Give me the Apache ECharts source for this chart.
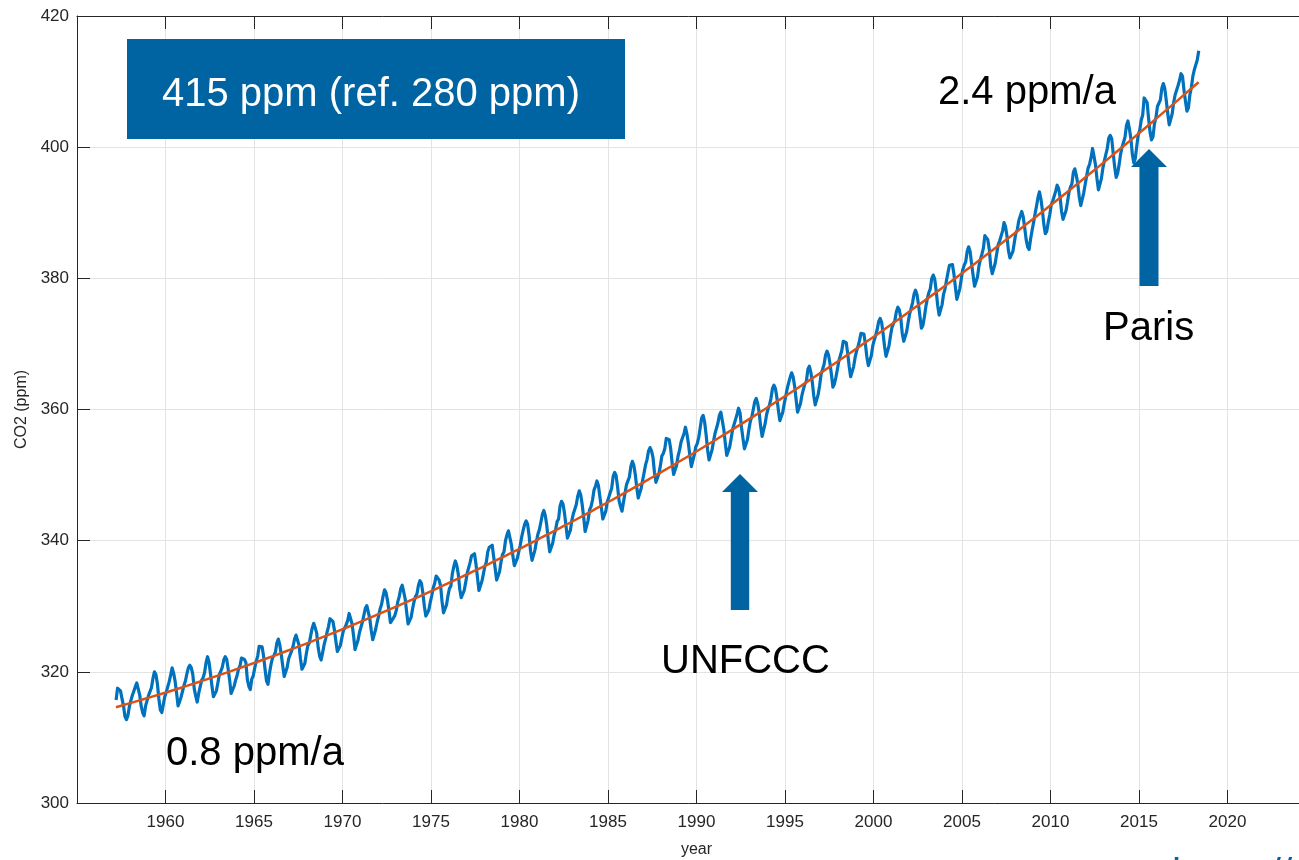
<!DOCTYPE html>
<html>
<head>
<meta charset="utf-8">
<script src="https://cdn.jsdelivr.net/npm/echarts@6/dist/echarts.min.js"></script>
<style>
html,body{margin:0;padding:0;background:#fff;overflow:hidden;}
#chart{width:1299px;height:860px;}
</style>
</head>
<body>
<div id="chart"></div>
<script>
// ---- data ----
// monthly CO2 (ppm); row i = plotted year firstYear + i; first row starts in firstMonth
const firstYear = 1957;
const firstMonth = 3;
const co2Rows = [
  [315.7,317.5,317.5,317.1,315.9,314.9,313.2,312.7,313.3,314.7],
  [315.6,316.4,316.7,317.7,318.3,318.2,316.5,314.8,313.8,313.3,314.8,315.6],
  [316.4,317.0,317.6,319.0,320.0,319.6,318.2,315.9,314.2,313.8,315.0,316.2],
  [316.9,317.7,318.5,319.5,320.6,319.8,318.6,316.8,314.8,315.4,316.1,317.0],
  [317.9,318.6,319.7,320.6,321.0,320.6,319.6,317.4,316.3,315.4,316.7,317.7],
  [318.7,319.1,319.9,321.4,322.3,321.5,319.7,317.8,316.2,316.0,317.1,318.3],
  [319.6,320.1,320.7,321.8,322.3,321.9,320.4,318.7,316.7,316.8,317.8,318.7],
  [319.4,320.4,320.9,322.1,322.2,321.9,321.4,318.8,317.8,317.3,318.9,319.4],
  [320.6,321.6,322.4,323.9,324.0,323.8,322.4,320.4,318.6,318.1,319.8,321.1],
  [322.1,322.5,323.0,324.4,325.0,324.1,322.6,320.9,319.3,319.3,320.7,322.0],
  [322.6,323.2,323.9,325.0,325.6,325.4,324.1,322.0,320.4,320.3,321.3,322.8],
  [324.0,324.4,325.6,326.7,327.4,326.7,325.9,323.7,322.4,321.8,322.9,324.1],
  [325.0,326.0,326.9,328.1,328.1,327.7,326.4,324.7,323.1,323.2,324.0,325.1],
  [326.2,326.7,327.2,327.8,328.9,328.6,327.3,325.5,323.4,323.6,324.8,326.0],
  [326.8,327.6,327.8,329.7,330.1,329.1,328.1,326.3,324.9,325.1,326.5,327.6],
  [328.5,329.6,330.3,331.5,332.5,332.1,330.9,329.3,327.5,327.2,328.2,328.6],
  [329.4,330.7,331.5,332.7,333.2,332.2,331.1,329.1,327.3,327.3,328.3,329.6],
  [330.7,331.5,331.9,333.2,333.9,333.5,332.0,330.0,328.5,328.3,329.4,330.6],
  [331.6,332.8,333.5,334.6,334.8,334.0,333.1,330.7,329.0,328.8,330.2,331.6],
  [332.7,333.1,335.0,336.1,336.9,336.2,334.9,332.6,331.3,331.3,332.4,333.6],
  [335.0,335.3,336.7,337.7,338.0,338.0,336.4,334.4,332.4,332.4,333.8,334.9],
  [336.1,336.7,338.3,339.0,339.2,339.3,337.5,335.8,334.0,334.2,335.3,336.8],
  [337.9,338.3,340.0,340.9,341.5,341.3,339.4,337.7,336.2,336.2,337.3,338.3],
  [339.3,340.6,341.6,342.5,343.0,342.5,340.8,338.4,337.0,337.1,338.6,339.9],
  [341.0,341.7,342.8,344.0,344.6,343.8,342.3,340.1,338.3,338.3,339.6,340.9],
  [341.7,342.9,343.3,345.3,346.0,345.6,344.2,342.3,340.4,340.4,341.6,343.1],
  [344.1,344.8,345.5,346.8,347.6,347.0,345.5,343.6,341.4,341.7,343.1,344.7],
  [345.2,346.2,347.7,348.3,349.1,348.4,346.7,345.0,343.3,343.1,344.5,345.9],
  [346.6,347.3,348.0,349.8,350.4,349.9,348.2,346.1,345.2,344.5,345.9,347.2],
  [348.5,348.7,349.7,351.3,352.1,351.5,350.1,348.1,346.5,346.6,348.0,349.2],
  [350.4,351.6,352.4,353.7,354.2,353.7,352.7,350.4,348.9,349.1,350.2,351.4],
  [352.9,353.3,354.0,355.6,355.9,355.4,354.0,351.8,350.1,350.3,351.5,352.9],
  [353.8,355.0,355.7,356.3,357.3,356.3,354.8,353.0,351.3,351.6,353.1,354.3],
  [354.8,355.7,357.2,358.7,359.1,358.1,356.2,353.9,352.3,352.4,353.8,355.1],
  [356.3,357.1,357.9,359.1,359.6,359.3,357.0,354.9,353.0,353.3,354.3,355.6],
  [357.0,357.3,358.5,359.3,360.2,359.5,357.3,355.6,354.0,354.1,355.4,356.9],
  [358.2,358.9,360.0,361.2,361.7,360.9,359.5,357.4,355.9,356.9,357.8,359.2],
  [360.1,360.7,361.7,363.2,363.7,363.2,361.8,359.9,358.3,358.3,359.6,360.9],
  [362.0,363.2,364.1,364.9,365.6,365.0,363.6,361.6,359.6,359.5,360.9,362.2],
  [363.1,363.9,364.3,366.1,366.6,365.7,364.2,362.1,360.7,360.8,362.3,363.7],
  [365.4,365.7,366.9,368.3,368.9,368.3,367.0,365.3,363.4,363.9,364.9,366.1],
  [367.4,368.2,369.0,370.4,370.6,370.2,368.6,366.6,365.0,365.0,366.5,367.9],
  [368.9,369.6,370.5,371.6,371.7,371.5,370.0,368.0,366.7,366.8,368.2,369.7],
  [370.6,371.3,372.2,373.4,373.9,373.3,371.6,369.6,368.1,368.4,369.7,371.2],
  [372.5,373.1,373.6,374.9,375.6,375.2,373.9,371.6,370.4,370.4,371.9,373.3],
  [374.6,375.4,376.3,377.6,378.2,377.5,376.0,374.2,372.4,372.8,374.1,375.7],
  [376.9,377.8,378.4,380.0,380.5,379.9,378.1,375.9,374.4,374.6,376.0,377.6],
  [378.4,379.7,380.9,382.0,382.2,382.1,380.7,378.7,376.8,377.0,378.4,379.9],
  [381.3,382.0,382.5,384.1,384.8,384.1,382.2,380.5,378.8,379.1,380.2,381.9],
  [382.9,383.7,384.6,386.5,386.4,385.9,384.4,381.8,380.7,380.8,382.3,383.7],
  [385.1,385.7,386.0,387.2,388.5,387.9,386.4,384.2,383.1,383.0,384.1,385.5],
  [386.9,387.4,388.8,389.5,390.2,389.4,387.7,385.9,384.8,384.4,386.0,387.3],
  [388.5,389.8,391.0,392.3,393.2,392.1,390.4,388.2,386.8,387.2,388.6,389.7],
  [391.2,391.8,392.5,393.3,394.2,393.7,392.4,390.2,389.0,388.9,390.3,391.6],
  [393.1,393.9,394.4,396.2,396.7,395.7,394.4,392.4,391.1,391.1,393.0,394.3],
  [395.6,396.8,397.4,398.4,399.8,398.6,397.3,395.2,393.5,393.7,395.2,396.8],
  [397.9,398.0,399.8,401.4,401.8,401.3,399.1,397.0,395.4,396.0,397.3,398.9],
  [400.0,400.3,401.5,403.3,404.0,402.8,401.3,398.9,397.6,398.3,400.2,401.9],
  [402.6,404.1,404.9,407.5,407.7,406.8,404.4,402.3,401.1,401.6,403.6,404.5],
  [406.2,406.5,407.2,409.0,409.7,408.9,407.1,405.1,403.4,403.6,405.1,406.8],
  [408.0,408.3,409.4,410.2,411.2,410.8,408.7,407.0,405.5,406.0,408.0,409.1],
  [410.8,411.8,412.0,413.3,414.7]
];

// trend curve (orange)
const trendYears = [1957.2,1958.2,1959.2,1960.2,1961.2,1962.2,1963.2,1964.2,1965.2,1966.2,
  1967.2,1968.2,1969.2,1970.2,1971.2,1972.2,1973.2,1974.2,1975.2,1976.2,
  1977.2,1978.2,1979.2,1980.2,1981.2,1982.2,1983.2,1984.2,1985.2,1986.2,
  1987.2,1988.2,1989.2,1990.2,1991.2,1992.2,1993.2,1994.2,1995.2,1996.2,
  1997.2,1998.2,1999.2,2000.2,2001.2,2002.2,2003.2,2004.2,2005.2,2006.2,
  2007.2,2008.2,2009.2,2010.2,2011.2,2012.2,2013.2,2014.2,2015.2,2016.2,
  2017.2,2018.2,2018.37];
const trendValues = [314.60,315.38,316.18,317.01,317.86,318.74,319.65,320.58,321.54,322.52,
  323.53,324.57,325.63,326.72,327.84,328.98,330.14,331.33,332.55,333.80,
  335.07,336.36,337.69,339.03,340.41,341.81,343.23,344.69,346.16,347.67,
  349.20,350.75,352.34,353.94,355.58,357.24,358.92,360.64,362.37,364.14,
  365.93,367.74,369.59,371.45,373.35,375.27,377.21,379.19,381.18,383.21,
  385.26,387.33,389.44,391.56,393.72,395.90,398.10,400.33,402.59,404.88,
  407.18,409.52,409.90];

const xTicks = [1960,1965,1970,1975,1980,1985,1990,1995,2000,2005,2010,2015,2020];
const yTicks = [300,320,340,360,380,400,420];

const annotations = {
  box: '415 ppm (ref. 280 ppm)',
  rateEnd: '2.4 ppm/a',
  rateStart: '0.8 ppm/a',
  ev1: 'UNFCCC',
  ev2: 'Paris',
  url: 'https://climate.copernicus.eu'
};

// ---- build series ----
const co2Points = [];
co2Rows.forEach((row, i) => {
  const m0 = i === 0 ? firstMonth - 1 : 0;
  row.forEach((v, j) => {
    co2Points.push([firstYear + i + (m0 + j + 0.5) / 12, v]);
  });
});
const trendPoints = trendYears.map((x, i) => [x, trendValues[i]]);

const FONT = '"Liberation Sans", Arial, Helvetica, sans-serif';
const AX = '#262626';
const GRID = '#e3e3e3';
const BLUE_BOX = '#0064a2';

function bigText(txt, x, y, color) {
  return {
    type: 'text', x: x, y: y, z: 100,
    style: {
      text: txt, fill: color || '#000',
      font: '40px ' + FONT, fontSize: 40, fontFamily: FONT,
      textAlign: 'left', align: 'left',
      textVerticalAlign: 'middle', verticalAlign: 'middle'
    }
  };
}
function arrow(cx, tipY, headBaseY, bottomY, headHalf, shaftHalf) {
  return {
    type: 'polygon', z: 100,
    shape: { points: [
      [cx, tipY], [cx + headHalf, headBaseY], [cx + shaftHalf, headBaseY],
      [cx + shaftHalf, bottomY], [cx - shaftHalf, bottomY], [cx - shaftHalf, headBaseY],
      [cx - headHalf, headBaseY]
    ]},
    style: { fill: BLUE_BOX }
  };
}

const chart = echarts.init(document.getElementById('chart'), null, { renderer: 'canvas' });
chart.setOption({
  animation: false,
  backgroundColor: '#ffffff',
  grid: { left: 77, top: 16, width: 1239, height: 787, containLabel: false, outerBoundsMode: 'none' },
  xAxis: [{
    type: 'value', min: 1955, max: 2025, interval: 5,
    name: 'year', nameLocation: 'middle', nameGap: 39,
    nameTextStyle: { color: AX, fontSize: 16, fontFamily: FONT },
    axisLine: { show: true, onZero: false, lineStyle: { color: AX, width: 1 } },
    axisTick: { show: true, inside: true, length: 13, lineStyle: { color: AX } },
    axisLabel: {
      color: AX, fontSize: 17, fontFamily: FONT, margin: 11,
      formatter: v => xTicks.indexOf(v) >= 0 ? String(v) : ''
    },
    splitLine: { show: true, lineStyle: { color: GRID, width: 1 } }
  }, {
    type: 'value', min: 1955, max: 2025, interval: 5, position: 'top',
    axisLine: { show: true, onZero: false, lineStyle: { color: AX, width: 1 } },
    axisTick: { show: true, inside: true, length: 13, lineStyle: { color: AX } },
    axisLabel: { show: false }, splitLine: { show: false }
  }],
  yAxis: [{
    type: 'value', min: 300, max: 420, interval: 20,
    name: 'CO2 (ppm)', nameLocation: 'middle', nameGap: 45, nameRotate: 90,
    nameTextStyle: { color: AX, fontSize: 16, fontFamily: FONT },
    axisLine: { show: true, onZero: false, lineStyle: { color: AX, width: 1 } },
    axisTick: { show: true, inside: true, length: 13, lineStyle: { color: AX } },
    axisLabel: {
      color: AX, fontSize: 17, fontFamily: FONT, margin: 8,
      formatter: v => yTicks.indexOf(v) >= 0 ? String(v) : ''
    },
    splitLine: { show: true, lineStyle: { color: GRID, width: 1 } }
  }, {
    type: 'value', min: 300, max: 420, interval: 20, position: 'right',
    axisLine: { show: true, onZero: false, lineStyle: { color: AX, width: 1 } },
    axisTick: { show: true, inside: true, length: 13, lineStyle: { color: AX } },
    axisLabel: { show: false }, splitLine: { show: false }
  }],
  series: [{
    name: 'CO2', type: 'line', data: co2Points, showSymbol: false,
    lineStyle: { color: '#0072bd', width: 3.2, join: 'round' },
    itemStyle: { color: '#0072bd' }, z: 3
  }, {
    name: 'trend', type: 'line', data: trendPoints, showSymbol: false, smooth: true,
    lineStyle: { color: '#d95319', width: 2.5 },
    itemStyle: { color: '#d95319' }, z: 4
  }],
  graphic: [
    { type: 'rect', z: 99, shape: { x: 127, y: 39, width: 498, height: 100 }, style: { fill: BLUE_BOX } },
    bigText(annotations.box, 162, 94.5, '#ffffff'),
    bigText(annotations.rateEnd, 938, 92.5),
    bigText(annotations.rateStart, 166, 753.5),
    bigText(annotations.ev1, 661, 662),
    bigText(annotations.ev2, 1103, 328.5),
    arrow(740, 474, 492, 610, 18, 9.2),
    arrow(1149, 149, 167, 286, 18, 9.5),
    bigText(annotations.url, 1172, 876, BLUE_BOX)
  ]
});
</script>
</body>
</html>
